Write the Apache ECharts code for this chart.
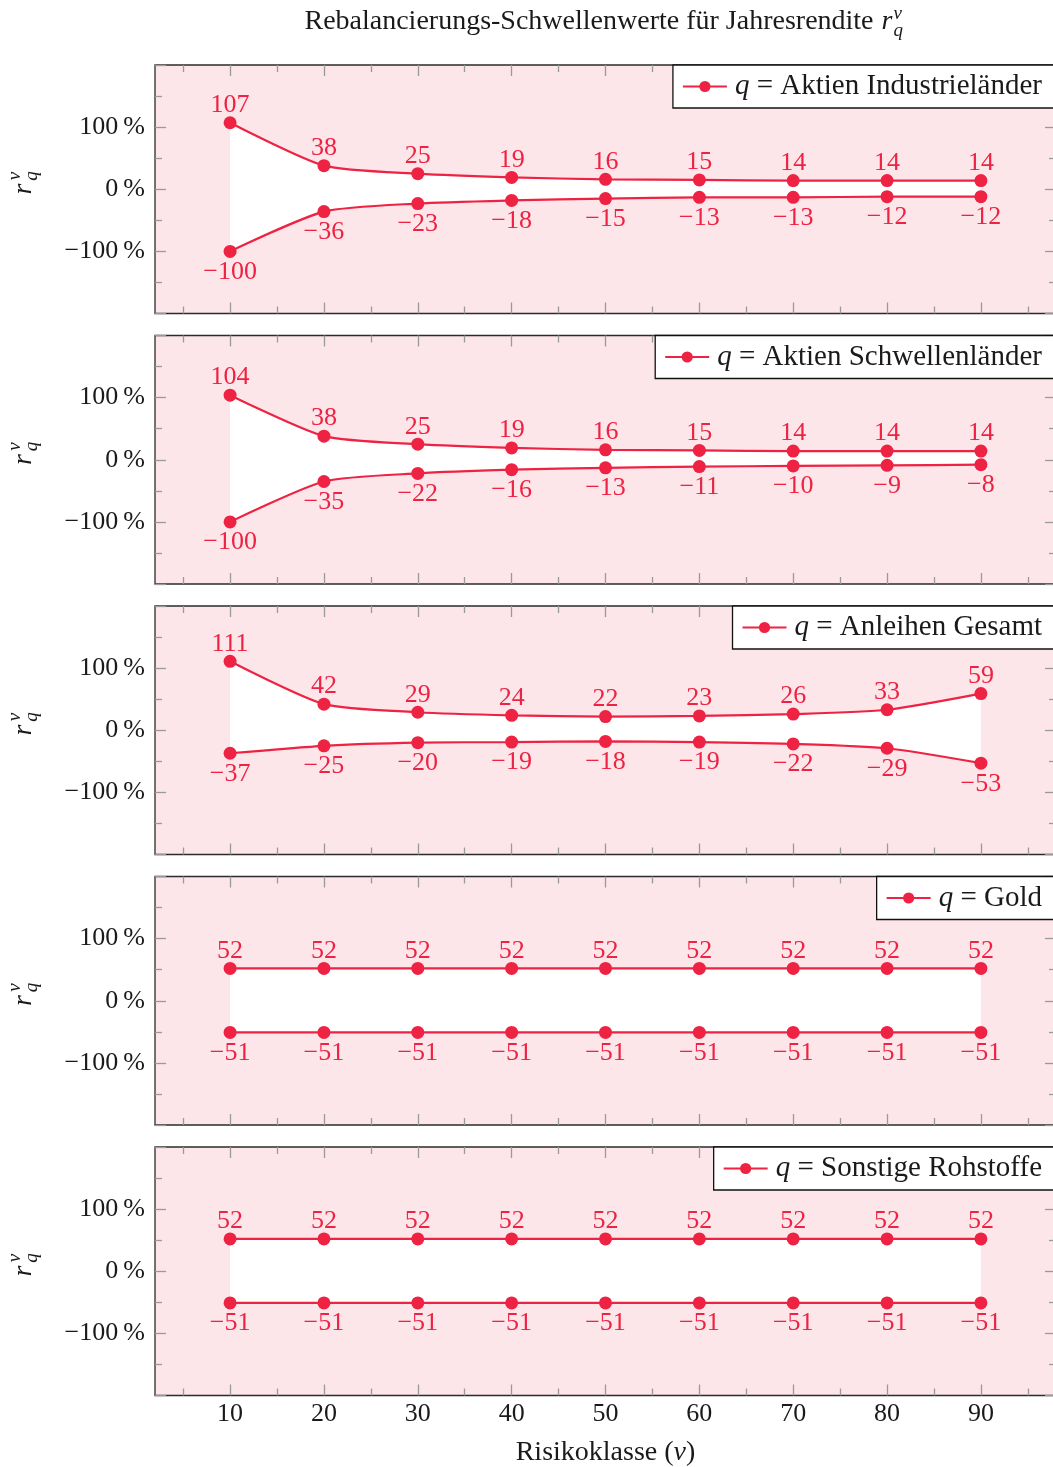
<!DOCTYPE html>
<html><head><meta charset="utf-8">
<script src="https://cdn.jsdelivr.net/npm/echarts@6/dist/echarts.min.js"></script>
<style>html,body{margin:0;padding:0;background:#fff}#c{width:1053px;height:1467px}</style>
</head><body><div id="c"></div>
<script>
// ---- data ----
const riskClasses = [10, 20, 30, 40, 50, 60, 70, 80, 90];
const assetNames = ['Aktien Industrieländer', 'Aktien Schwellenländer', 'Anleihen Gesamt', 'Gold', 'Sonstige Rohstoffe'];
const upperAktienInd = [107, 38, 25, 19, 16, 15, 14, 14, 14];
const lowerAktienInd = [-100, -36, -23, -18, -15, -13, -13, -12, -12];
const upperAktienSchw = [104, 38, 25, 19, 16, 15, 14, 14, 14];
const lowerAktienSchw = [-100, -35, -22, -16, -13, -11, -10, -9, -8];
const upperAnleihen = [111, 42, 29, 24, 22, 23, 26, 33, 59];
const lowerAnleihen = [-37, -25, -20, -19, -18, -19, -22, -29, -53];
const upperGold = [52, 52, 52, 52, 52, 52, 52, 52, 52];
const lowerGold = [-51, -51, -51, -51, -51, -51, -51, -51, -51];
const upperRohstoffe = [52, 52, 52, 52, 52, 52, 52, 52, 52];
const lowerRohstoffe = [-51, -51, -51, -51, -51, -51, -51, -51, -51];
const xMajorTicks = [10, 20, 30, 40, 50, 60, 70, 80, 90];
const xMinorTicks = [5, 15, 25, 35, 45, 55, 65, 75, 85, 95];
const yTickLabels = [-100, 0, 100];

const uppers = [upperAktienInd, upperAktienSchw, upperAnleihen, upperGold, upperRohstoffe];
const lowers = [lowerAktienInd, lowerAktienSchw, lowerAnleihen, lowerGold, lowerRohstoffe];

// ---- style ----
const FONT = 'Liberation Serif';
const RED = '#ee2242';
const PINK = '#fde6ea';
const TICK = '#9a9a9a';
const INK = '#1a1a1a';
const tops = [65, 335.5, 606, 876.5, 1147];
const H = 248.5, LEFT = 155, W = 901;

const fmtNum = v => (v < 0 ? '\u2212' + Math.abs(v) : String(v));

const grid = [], xAxis = [], yAxis = [], series = [], legend = [], graphic = [];

tops.forEach((t, i) => {
  const last = i === tops.length - 1;
  grid.push({left: LEFT, top: t, width: W, height: H, show: true, backgroundColor: PINK, borderColor: '#2b2b2b', borderWidth: 1.3, outerBoundsMode: 'none', containLabel: false});
  grid.push({left: LEFT, top: t, width: W, height: H, show: false, outerBoundsMode: 'none', containLabel: false});
  const baseX = {type: 'value', min: 2, max: 98, axisLine: {show: false, onZero: false}, splitLine: {show: false}};
  xAxis.push(Object.assign({}, baseX, {
    gridIndex: 2 * i, position: 'bottom',
    axisTick: {inside: true, length: 11, lineStyle: {color: TICK, width: 1.3}, customValues: xMajorTicks},
    axisLabel: last ? {show: true, customValues: xMajorTicks, fontSize: 26, fontFamily: FONT, color: INK, margin: 6} : {show: false},
    name: last ? 'Risikoklasse ({i|v})' : '',
    nameLocation: 'middle', nameGap: 43,
    nameTextStyle: {fontSize: 28, fontFamily: FONT, color: INK, rich: {i: {fontSize: 28, fontFamily: FONT, fontStyle: 'italic', color: INK}}}
  }));
  xAxis.push(Object.assign({}, baseX, {
    gridIndex: 2 * i, position: 'top',
    axisTick: {inside: true, length: 11, lineStyle: {color: TICK, width: 1.3}, customValues: xMajorTicks},
    axisLabel: {show: false}
  }));
  xAxis.push(Object.assign({}, baseX, {
    gridIndex: 2 * i + 1, position: 'bottom',
    axisTick: {inside: true, length: 7, lineStyle: {color: TICK, width: 1.3}, customValues: xMinorTicks},
    axisLabel: {show: false}
  }));
  xAxis.push(Object.assign({}, baseX, {
    gridIndex: 2 * i + 1, position: 'top',
    axisTick: {inside: true, length: 7, lineStyle: {color: TICK, width: 1.3}, customValues: xMinorTicks},
    axisLabel: {show: false}
  }));
  const baseY = {type: 'value', min: -200, max: 200, interval: 100, axisLine: {show: false, onZero: false}, splitLine: {show: false},
    axisTick: {inside: true, length: 11, lineStyle: {color: TICK, width: 1.3}},
    minorTick: {show: true, splitNumber: 2, length: 7, lineStyle: {color: TICK, width: 1.3}},
    minorSplitLine: {show: false}};
  yAxis.push(Object.assign({}, baseY, {
    gridIndex: 2 * i, position: 'left',
    axisLabel: {show: true, fontSize: 26, fontFamily: FONT, color: INK, margin: 10,
      formatter: v => (yTickLabels.indexOf(v) >= 0 ? fmtNum(v) + '\u2009%' : '')}
  }));
  yAxis.push(Object.assign({}, baseY, {gridIndex: 2 * i, position: 'right', axisLabel: {show: false}}));
  yAxis.push({type: 'value', gridIndex: 2 * i + 1, min: -200, max: 200, show: false});

  const common = {
    type: 'line', xAxisIndex: 4 * i, yAxisIndex: 3 * i, smooth: 0.22,
    symbol: 'circle', symbolSize: 13, color: RED,
    lineStyle: {color: RED, width: 2.2}, itemStyle: {color: RED},
    emphasis: {disabled: true}, animation: false
  };
  series.push(Object.assign({}, common, {
    name: assetNames[i],
    data: riskClasses.map((x, j) => [x, uppers[i][j]]),
    areaStyle: {color: '#ffffff', opacity: 1, origin: -3},
    label: {show: true, position: 'top', distance: -2, fontSize: 26, fontFamily: FONT, color: RED,
      formatter: p => fmtNum(p.value[1])}
  }));
  series.push(Object.assign({}, common, {
    name: assetNames[i] + ' unten',
    data: riskClasses.map((x, j) => [x, lowers[i][j]]),
    areaStyle: {color: '#ffffff', opacity: 1, origin: 0},
    label: {show: true, position: 'bottom', distance: 1, fontSize: 26, fontFamily: FONT, color: RED,
      formatter: p => fmtNum(p.value[1])}
  }));
  legend.push({
    data: [assetNames[i]], top: t, right: -3, selectedMode: false,
    itemWidth: 44, itemHeight: 14, padding: [7, 14, 7, 9],
    borderColor: '#111', borderWidth: 1.3, borderRadius: 0, backgroundColor: '#fff',
    formatter: n => '{g|}{i|q} = ' + n,
    textStyle: {fontSize: 29, fontFamily: FONT, color: INK, rich: {
      g: {width: 3},
      i: {fontSize: 29, fontFamily: FONT, fontStyle: 'italic', color: INK}}}
  });
  // y-axis name r_q^v
  graphic.push({
    type: 'group', x: 24, y: t + 124 - 4, rotation: Math.PI / 2,
    children: [
      {type: 'text', x: -4, y: 0, style: {text: 'r', font: 'italic 28px "' + FONT + '"', fill: INK, align: 'center', verticalAlign: 'middle'}},
      {type: 'text', x: 9, y: -9, style: {text: 'v', font: 'italic 19px "' + FONT + '"', fill: INK, align: 'center', verticalAlign: 'middle'}},
      {type: 'text', x: 9, y: 8, style: {text: 'q', font: 'italic 19px "' + FONT + '"', fill: INK, align: 'center', verticalAlign: 'middle'}}
    ]
  });
});

// title
const titleMain = 'Rebalancierungs-Schwellenwerte für Jahresrendite';
const ctx = document.createElement('canvas').getContext('2d');
ctx.font = '28px "' + FONT + '"';
const wMain = ctx.measureText(titleMain).width;
const total = wMain + 8 + 11 + 2 + 11;
const x0 = 605 - total / 2;
graphic.push(
  {type: 'text', x: x0, y: 22, style: {text: titleMain, font: '28px "' + FONT + '"', fill: INK, align: 'left', verticalAlign: 'middle'}},
  {type: 'text', x: x0 + wMain + 8, y: 22, style: {text: 'r', font: 'italic 28px "' + FONT + '"', fill: INK, align: 'left', verticalAlign: 'middle'}},
  {type: 'text', x: x0 + wMain + 20, y: 14, style: {text: 'v', font: 'italic 19px "' + FONT + '"', fill: INK, align: 'left', verticalAlign: 'middle'}},
  {type: 'text', x: x0 + wMain + 20, y: 31, style: {text: 'q', font: 'italic 19px "' + FONT + '"', fill: INK, align: 'left', verticalAlign: 'middle'}}
);

const chart = echarts.init(document.getElementById('c'), null, {renderer: 'canvas'});
chart.setOption({animation: false, grid, xAxis, yAxis, series, legend, graphic});
</script></body></html>
